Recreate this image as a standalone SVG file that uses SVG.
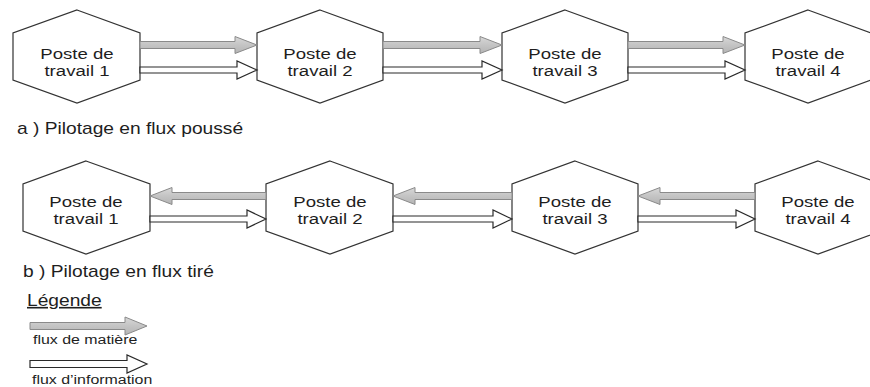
<svg xmlns="http://www.w3.org/2000/svg" width="870" height="387" viewBox="0 0 870 387">
  <defs>
    <linearGradient id="matiere" x1="0" y1="0" x2="0" y2="1">
      <stop offset="0" stop-color="#d8d8d8"/>
      <stop offset="0.5" stop-color="#c4c4c4"/>
      <stop offset="1" stop-color="#b4b4b4"/>
    </linearGradient>
  </defs>
  <style>
    .hex { fill: #ffffff; stroke: #333333; stroke-width: 1.2; }
    text { font-family: "Liberation Sans", Arial, sans-serif; fill: #1e1e1e; }
    .lbl { font-size: 15.5px; text-anchor: middle; }
    .cap { font-size: 16px; }
    .leg { font-size: 13.5px; }
    .mat { fill: url(#matiere); stroke: #8a8a8a; stroke-width: 1; }
    .info { fill: #ffffff; stroke: #2a2a2a; stroke-width: 1.2; }
  </style>

  <!-- a) flux poussé -->
  <g id="a-poste1">
    <polygon class="hex" points="77,10 140,33 140,80 77,103 13,80 13,33"/>
    <text class="lbl" transform="translate(77,59) scale(1.2,1)">Poste de</text>
    <text class="lbl" transform="translate(77,76) scale(1.2,1)">travail 1</text>
  </g>
  <g id="a-poste2">
    <polygon class="hex" points="320,10 383,33 383,80 320,103 257,80 257,33"/>
    <text class="lbl" transform="translate(320,59) scale(1.2,1)">Poste de</text>
    <text class="lbl" transform="translate(320,76) scale(1.2,1)">travail 2</text>
  </g>
  <g id="a-poste3">
    <polygon class="hex" points="565,10 628,33 628,80 565,103 502,80 502,33"/>
    <text class="lbl" transform="translate(565,59) scale(1.2,1)">Poste de</text>
    <text class="lbl" transform="translate(565,76) scale(1.2,1)">travail 3</text>
  </g>
  <g id="a-poste4">
    <polygon class="hex" points="808,10 871,33 871,80 808,103 745,80 745,33"/>
    <text class="lbl" transform="translate(808,59) scale(1.2,1)">Poste de</text>
    <text class="lbl" transform="translate(808,76) scale(1.2,1)">travail 4</text>
  </g>

  <g id="a-flux">
    <path class="mat" d="M140,41.5 H235 V36.5 L257,45 L235,53.5 V48.5 H140 Z"/>
    <path class="mat" d="M383,41.5 H480 V36.5 L502,45 L480,53.5 V48.5 H383 Z"/>
    <path class="mat" d="M628,41.5 H723 V36.5 L745,45 L723,53.5 V48.5 H628 Z"/>
    <path class="info" d="M140,67 H237 V61 L257,70 L237,79 V73 H140 Z"/>
    <path class="info" d="M383,67 H482 V61 L502,70 L482,79 V73 H383 Z"/>
    <path class="info" d="M628,67 H725 V61 L745,70 L725,79 V73 H628 Z"/>
  </g>

  <text class="cap" transform="translate(17,134) scale(1.2,1)">a ) Pilotage en flux poussé</text>

  <!-- b) flux tiré -->
  <g id="b-poste1">
    <polygon class="hex" points="86,161 150,184 150,231 86,254 23,231 23,184"/>
    <text class="lbl" transform="translate(86,207) scale(1.2,1)">Poste de</text>
    <text class="lbl" transform="translate(86,224) scale(1.2,1)">travail 1</text>
  </g>
  <g id="b-poste2">
    <polygon class="hex" points="330,161 393,184 393,231 330,254 266,231 266,184"/>
    <text class="lbl" transform="translate(330,207) scale(1.2,1)">Poste de</text>
    <text class="lbl" transform="translate(330,224) scale(1.2,1)">travail 2</text>
  </g>
  <g id="b-poste3">
    <polygon class="hex" points="575,161 638,184 638,231 575,254 512,231 512,184"/>
    <text class="lbl" transform="translate(575,207) scale(1.2,1)">Poste de</text>
    <text class="lbl" transform="translate(575,224) scale(1.2,1)">travail 3</text>
  </g>
  <g id="b-poste4">
    <polygon class="hex" points="818,161 881,184 881,231 818,254 755,231 755,184"/>
    <text class="lbl" transform="translate(818,207) scale(1.2,1)">Poste de</text>
    <text class="lbl" transform="translate(818,224) scale(1.2,1)">travail 4</text>
  </g>

  <g id="b-flux">
    <path class="mat" d="M266,192.5 H172 V187.5 L150,196 L172,204.5 V199.5 H266 Z"/>
    <path class="mat" d="M512,192.5 H415 V187.5 L393,196 L415,204.5 V199.5 H512 Z"/>
    <path class="mat" d="M755,192.5 H660 V187.5 L638,196 L660,204.5 V199.5 H755 Z"/>
    <path class="info" d="M150,216 H247 V210 L266,219 L247,228 V222 H150 Z"/>
    <path class="info" d="M393,216 H493 V210 L512,219 L493,228 V222 H393 Z"/>
    <path class="info" d="M638,216 H736 V210 L755,219 L736,228 V222 H638 Z"/>
  </g>

  <text class="cap" transform="translate(23,277) scale(1.2,1)">b ) Pilotage en flux tiré</text>

  <!-- légende -->
  <g id="legende">
    <text class="cap" transform="translate(27,306) scale(1.2,1)" text-decoration="underline">Légende</text>
    <path class="mat" d="M30,322.5 H125 V317 L147,326 L125,335 V329.5 H30 Z"/>
    <text class="leg" transform="translate(33,344) scale(1.18,1)">flux de matière</text>
    <path class="info" d="M30,360.5 H127 V355 L147,364 L127,373 V367.5 H30 Z"/>
    <text class="leg" transform="translate(32,384) scale(1.18,1)">flux d’information</text>
  </g>
</svg>
